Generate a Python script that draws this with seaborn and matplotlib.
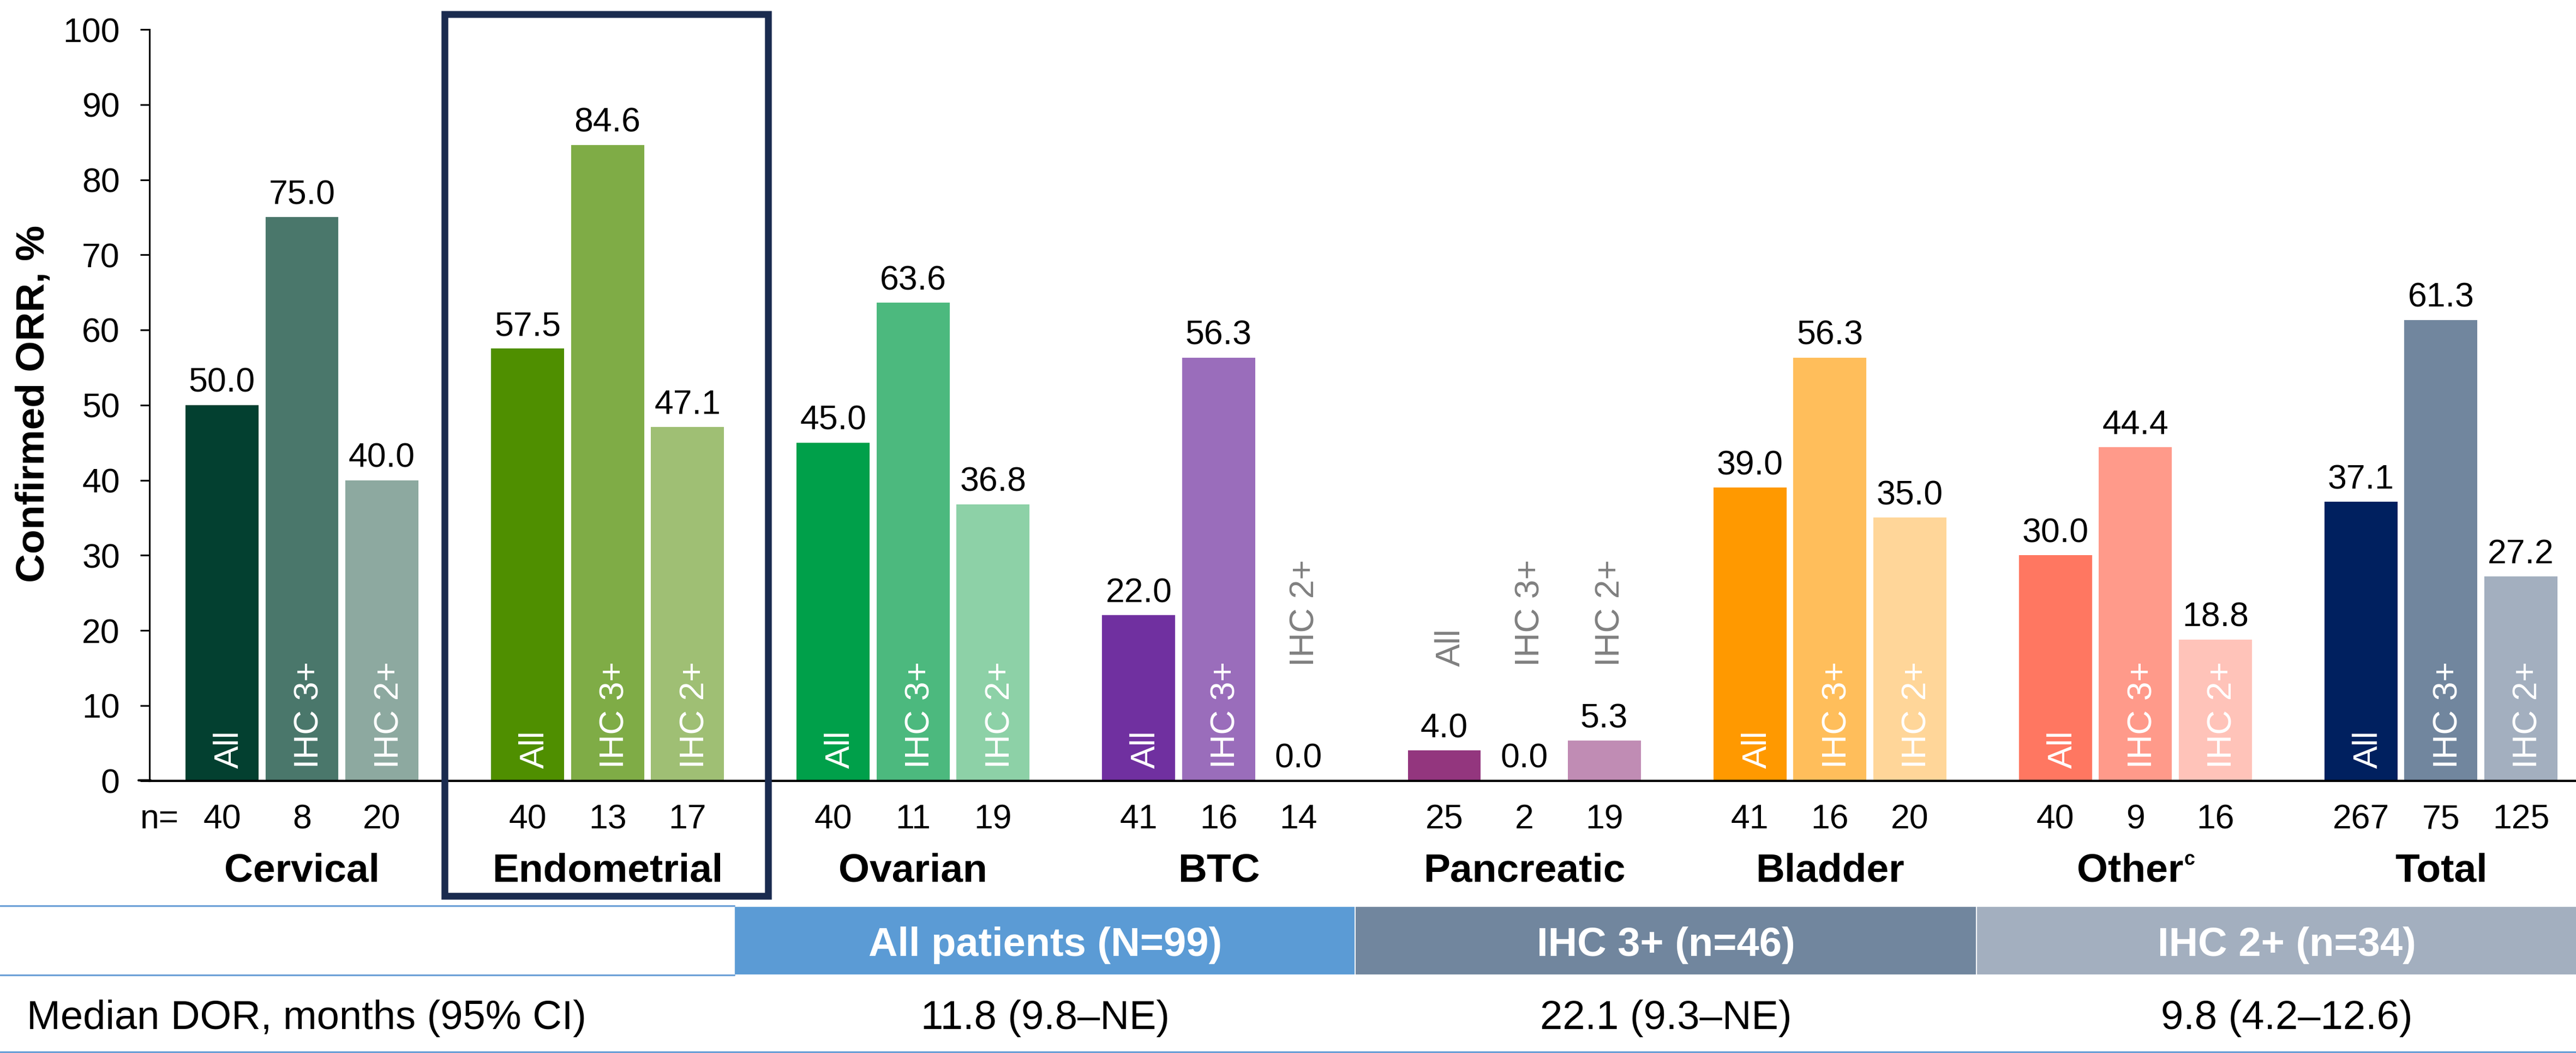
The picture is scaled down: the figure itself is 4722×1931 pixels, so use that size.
import numpy as np
import pandas as pd
import seaborn as sns
import matplotlib.pyplot as plt
from matplotlib.patches import Rectangle
from matplotlib.lines import Line2D
from matplotlib.transforms import Affine2D

# ---- data -----------------------------------------------------------------
categories = ["Cervical", "Endometrial", "Ovarian", "BTC", "Pancreatic",
              "Bladder", "Other", "Total"]
category_superscripts = ["", "", "", "", "", "", "c", ""]
subgroups = ["All", "IHC 3+", "IHC 2+"]

orr_all = [50.0, 57.5, 45.0, 22.0, 4.0, 39.0, 30.0, 37.1]
orr_ihc3 = [75.0, 84.6, 63.6, 56.3, 0.0, 56.3, 44.4, 61.3]
orr_ihc2 = [40.0, 47.1, 36.8, 0.0, 5.3, 35.0, 18.8, 27.2]

n_all = [40, 40, 40, 41, 25, 41, 40, 267]
n_ihc3 = [8, 13, 11, 16, 2, 16, 9, 75]
n_ihc2 = [20, 17, 19, 14, 19, 20, 16, 125]

colors_all = ["#034030", "#4F8F00", "#00A04A", "#7030A0", "#93367E",
              "#FF9900", "#FF7761", "#00205F"]
colors_ihc3 = ["#4A776B", "#7FAC46", "#4CB97E", "#9A6DBB", "#B07AA8",
               "#FFBE5B", "#FF9A8A", "#71869E"]
colors_ihc2 = ["#8DA9A0", "#9FBF74", "#8DD1A7", "#C4A8D8", "#C08CB4",
               "#FFD699", "#FFC3B9", "#A3AFBF"]

dor_row_label = "Median DOR, months (95% CI)"
dor_headers = ["All patients (N=99)", "IHC 3+ (n=46)", "IHC 2+ (n=34)"]
dor_values = ["11.8 (9.8–NE)", "22.1 (9.3–NE)", "9.8 (4.2–12.6)"]
header_colors = ["#5B9BD5", "#71869E", "#A3AFBF"]

# ---- long-form table for seaborn ------------------------------------------
orr_by_sub = [orr_all, orr_ihc3, orr_ihc2]
n_by_sub = [n_all, n_ihc3, n_ihc2]
colors_by_sub = [colors_all, colors_ihc3, colors_ihc2]
rows = []
for j, sub in enumerate(subgroups):
    for i, cat in enumerate(categories):
        rows.append({"group": cat, "subgroup": sub,
                     "orr": orr_by_sub[j][i], "n": n_by_sub[j][i]})
df = pd.DataFrame(rows)

# ---- style ----------------------------------------------------------------
sns.set_theme(style="white")
plt.rcParams["font.family"] = ["Liberation Sans", "DejaVu Sans"]

W, H = 4722, 1931
DPI = 300
fig = plt.figure(figsize=(W / DPI, H / DPI), dpi=DPI)
fig.patch.set_facecolor("white")

# pixel-space transform (origin top-left, y downward)
px = Affine2D().scale(1.0 / W, -1.0 / H).translate(0, 1) + fig.transFigure

ax_left, ax_right = 274, W
ax_top, ax_bottom = 54, 1431.5
ax = fig.add_axes([ax_left / W, 1 - ax_bottom / H,
                   (ax_right - ax_left) / W, (ax_bottom - ax_top) / H])

group_width = 0.7848
pitch = group_width / 3
sns.barplot(data=df, x="group", y="orr", hue="subgroup", order=categories,
            hue_order=subgroups, width=group_width, gap=0.0856,
            errorbar=None, legend=False, saturation=1, ax=ax)

ax.set_xlim(-0.499, 7.442)
ax.set_ylim(0, 100)
ax.set_yticks(np.arange(0, 101, 10))
ax.set_xticks([])
ax.set_xlabel("")
ax.set_ylabel("")
ax.tick_params(axis="y", direction="out", length=4, width=0.75, pad=9,
               labelsize=15, labelcolor="black", color="black", left=True)
for side in ["top", "right"]:
    ax.spines[side].set_visible(False)
ax.spines["left"].set_color("black")
ax.spines["left"].set_linewidth(0.75)
ax.spines["bottom"].set_color("black")
ax.spines["bottom"].set_linewidth(1.0)
ax.patch.set_alpha(0)

# baseline continues a little to the left of the value axis
fig.add_artist(Line2D([254, 276], [ax_bottom, ax_bottom], color="black",
                      lw=1.0, transform=px))

# ---- colour bars and annotate ---------------------------------------------
for p in ax.patches:
    cx = p.get_x() + p.get_width() / 2
    gi = int(round(cx))
    sj = int(round((cx - gi) / pitch)) + 1
    h = p.get_height()
    p.set_facecolor(colors_by_sub[sj][gi])
    p.set_edgecolor("none")
    p.set_linewidth(0)

    ax.annotate(f"{h:.1f}", xy=(cx, h), xytext=(0, 5.8),
                textcoords="offset points", ha="center", va="baseline",
                fontsize=15, color="black")

    if h >= 10:
        ax.annotate(subgroups[sj], xy=(cx, 0), xytext=(7.2, 5.3),
                    textcoords="offset points", rotation=90,
                    rotation_mode="anchor", ha="left", va="baseline",
                    fontsize=15, color="white")
    else:
        ax.annotate(subgroups[sj], xy=(cx, 0), xytext=(6.7, 50.4),
                    textcoords="offset points", rotation=90,
                    rotation_mode="anchor", ha="left", va="baseline",
                    fontsize=15, color="#808080")

    ax.annotate(str(n_by_sub[sj][gi]), xy=(cx, 0), xytext=(0, -21.0),
                textcoords="offset points", ha="center", va="baseline",
                fontsize=15, color="black", annotation_clip=False)

# category names; a superscript footnote letter is set as a small raised run
sup_shift = 2.4   # points the main word moves left to keep the pair centred
for gi, (lab, sup) in enumerate(zip(categories, category_superscripts)):
    if not sup:
        ax.annotate(lab, xy=(gi, 0), xytext=(0, -44.3),
                    textcoords="offset points", ha="center", va="baseline",
                    fontsize=17.6, fontweight="bold", color="black",
                    annotation_clip=False)
    else:
        word = ax.annotate(lab, xy=(gi, 0), xytext=(-sup_shift, -44.3),
                           textcoords="offset points", ha="center",
                           va="baseline", fontsize=17.6, fontweight="bold",
                           color="black", annotation_clip=False)
        ax.annotate(sup, xy=(1.0, 0.0), xycoords=word,
                    xytext=(0.4, 10.7), textcoords="offset points",
                    ha="left", va="baseline", fontsize=8.6,
                    fontweight="bold", color="black", annotation_clip=False)

fig.text(257, 1519, "n=", transform=px, ha="left", va="baseline",
         fontsize=15, color="black")

fig.text(62, 740, "Confirmed ORR, %", transform=px, rotation=90,
         ha="center", va="center", fontsize=17.6, fontweight="bold",
         color="black")

# highlight frame around the endometrial group
fig.add_artist(Rectangle((815, 25.5), 1408 - 815, 1643 - 25.5, fill=False,
                         edgecolor="#1A2B4F", linewidth=3.0,
                         joinstyle="miter", transform=px))

# ---- DOR table ------------------------------------------------------------
line_blue = "#6A9FD6"
cell_edges = [1346, 2484, 3623, 4761]
text_centers = [1916, 3054, 4192]
row_top, row_mid, row_bot = 1662, 1788.5, 1929

for k in range(3):
    fig.add_artist(Rectangle((cell_edges[k], row_top),
                             cell_edges[k + 1] - cell_edges[k],
                             row_mid - row_top,
                             facecolor=header_colors[k], edgecolor="white",
                             linewidth=0.5, transform=px))
    fig.text(text_centers[k], 1753, dor_headers[k], transform=px,
             ha="center", va="baseline", fontsize=17.8, fontweight="bold",
             color="white")
    fig.text(text_centers[k], 1887.5, dor_values[k], transform=px,
             ha="center", va="baseline", fontsize=17.8, color="black")

fig.add_artist(Line2D([0, 1346], [row_top - 1, row_top - 1], color=line_blue,
                      lw=0.75, transform=px))
fig.add_artist(Line2D([0, 1346], [row_mid, row_mid], color=line_blue,
                      lw=0.75, transform=px))
fig.add_artist(Line2D([0, W], [row_bot, row_bot], color=line_blue,
                      lw=0.75, transform=px))

fig.text(49, 1887.5, dor_row_label, transform=px, ha="left", va="baseline",
         fontsize=17.8, color="black")

fig.savefig("out.png", dpi=DPI, facecolor="white")
